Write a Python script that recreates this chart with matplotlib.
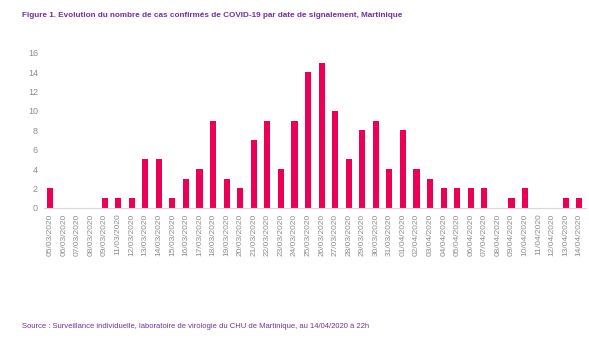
import matplotlib.pyplot as plt

plt.rcParams['font.family'] = ['Liberation Sans', 'DejaVu Sans']

# daily confirmed cases by reporting date (10/03 has no entry)
dates = ['05/03/2020', '06/03/2020', '07/03/2020', '08/03/2020', '09/03/2020',
         '11/03/2020', '12/03/2020', '13/03/2020', '14/03/2020', '15/03/2020',
         '16/03/2020', '17/03/2020', '18/03/2020', '19/03/2020', '20/03/2020',
         '21/03/2020', '22/03/2020', '23/03/2020', '24/03/2020', '25/03/2020',
         '26/03/2020', '27/03/2020', '28/03/2020', '29/03/2020', '30/03/2020',
         '31/03/2020', '01/04/2020', '02/04/2020', '03/04/2020', '04/04/2020',
         '05/04/2020', '06/04/2020', '07/04/2020', '08/04/2020', '09/04/2020',
         '10/04/2020', '11/04/2020', '12/04/2020', '13/04/2020', '14/04/2020']
cases = [2, 0, 0, 0, 1, 1, 1, 5, 5, 1, 3, 4, 9, 3, 2, 7, 9, 4, 9, 14,
         15, 10, 5, 8, 9, 4, 8, 4, 3, 2, 2, 2, 2, 0, 1, 2, 0, 0, 1, 1]
yticks = [0, 2, 4, 6, 8, 10, 12, 14, 16]

purple = '#7030A0'
grey = '#8c8c8c'

fig = plt.figure(figsize=(5.89, 3.43), dpi=100)
ax = fig.add_axes([0.074, 0.394, 0.921, 0.452])

x = range(len(dates))
ax.bar(x, cases, width=0.45, color='#EC0055')

ax.set_xlim(-0.5, len(dates) - 0.5)
ax.set_ylim(0, 16)
ax.set_yticks(yticks)
ax.set_yticklabels([str(v) for v in yticks], fontsize=6.5, color=grey)
ax.set_xticks(list(x))
ax.set_xticklabels(dates, rotation=90, fontsize=6, color=grey)
ax.tick_params(axis='both', length=0, pad=4)

for side in ['top', 'right', 'left']:
    ax.spines[side].set_visible(False)
ax.spines['bottom'].set_color('#d9d9d9')
ax.spines['bottom'].set_linewidth(0.8)

fig.text(0.037, 0.955, "Figure 1. Evolution du nombre de cas confirmés de COVID-19 par date de signalement, Martinique",
         fontsize=5.9, fontweight='bold', color=purple, va='center')
fig.text(0.037, 0.047, "Source : Surveillance individuelle, laboratoire de virologie du CHU de Martinique, au 14/04/2020 à 22h",
         fontsize=5.5, color=purple, va='center')

fig.savefig('out.png', dpi=100)
